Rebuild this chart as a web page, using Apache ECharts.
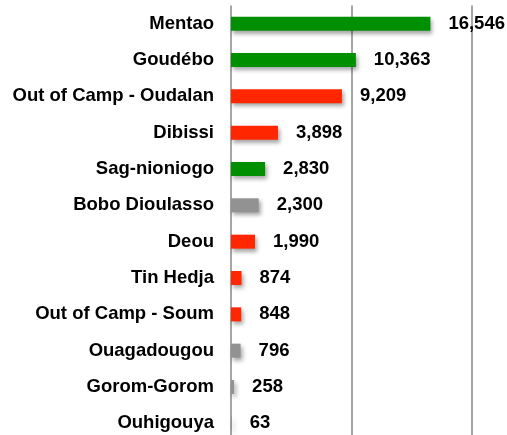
<!DOCTYPE html>
<html><head><meta charset="utf-8">
<script src="https://cdn.jsdelivr.net/npm/echarts@6/dist/echarts.min.js"></script>
<style>html,body{margin:0;padding:0;background:#fff;overflow:hidden}#c{width:507px;height:445px}</style>
</head><body><div id="c"></div>
<script>
var categories = ["Mentao","Goudébo","Out of Camp - Oudalan","Dibissi","Sag-nioniogo","Bobo Dioulasso","Deou","Tin Hedja","Out of Camp - Soum","Ouagadougou","Gorom-Gorom","Ouhigouya"];
var values = [16546,10363,9209,3898,2830,2300,1990,874,848,796,258,63];
var groups = ["camp","camp","out","out","camp","urban","out","out","out","urban","urban","urban"];
var groupColors = {camp:"#008f00", out:"#ff2600", urban:"#929292"};

var chart = echarts.init(document.getElementById('c'), null, {renderer:'canvas'});
var font = '"Liberation Sans", Arial, Helvetica, sans-serif';
chart.setOption({
  animation:false,
  grid:{left:231, right:35, top:5.5, height:436, containLabel:false},
  xAxis:{type:'value', min:0, max:20000, interval:10000,
    axisLabel:{show:false}, axisTick:{show:false}, axisLine:{show:false},
    splitLine:{show:true, lineStyle:{color:'#a6a6a6', width:2}}},
  yAxis:{type:'category', inverse:true, data:categories,
    axisLine:{show:false}, axisTick:{show:false},
    axisLabel:{margin:17, color:'#000', fontFamily:font, fontWeight:'bold', fontSize:18.5}},
  series:[{type:'bar', barWidth:14,
    data: values.map(function(v,i){return {value:v, itemStyle:{color:groupColors[groups[i]]}};}),
    itemStyle:{shadowColor:'rgba(0,0,0,0.35)', shadowBlur:4, shadowOffsetX:2, shadowOffsetY:3},
    label:{show:true, position:'right', distance:18, color:'#000', fontFamily:font, fontWeight:'bold', fontSize:18.5,
      formatter:function(p){return p.value.toLocaleString('en-US');}}
  }]
});
</script></body></html>
